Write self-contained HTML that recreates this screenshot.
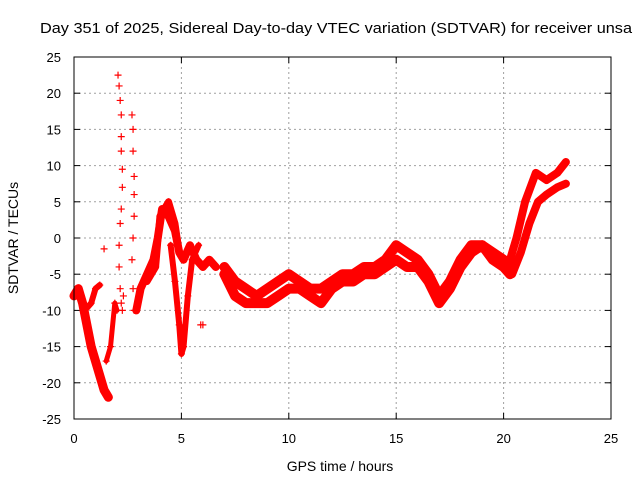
<!DOCTYPE html>
<html><head><meta charset="utf-8"><style>
body{margin:0;background:#fff;}
svg{display:block;font-family:"Liberation Sans",sans-serif;}
</style></head><body>
<svg id="c" width="640" height="480">
<text x="40" y="33" font-size="15" textLength="592" lengthAdjust="spacingAndGlyphs">Day 351 of 2025, Sidereal Day-to-day VTEC variation (SDTVAR) for receiver unsa</text>
<text x="340" y="471" font-size="14" text-anchor="middle">GPS time / hours</text>
<text transform="translate(18,238) rotate(-90)" font-size="14" text-anchor="middle">SDTVAR / TECUs</text>
<g id="grid"></g><g id="data"></g>
<rect x="74" y="57" width="537" height="362" fill="none" stroke="#000" stroke-width="1"/>
</svg>
<script>
const xTicks=[0,5,10,15,20,25];
const yTicks=[25,20,15,10,5,0,-5,-10,-15,-20,-25];
const tA=[0,0.2,0.4,0.6,0.8,1.0,1.2,1.4,1.6];
const vA=[-8,-7,-9,-12,-15,-17,-19,-21,-22];
const tA2=[0.5,0.8,1.0,1.2];
const vA2=[-10,-9,-7,-6.5];
const tS1=[2.05,2.1,2.15,2.2,2.2,2.2,2.25,2.25,2.2,2.15,2.1,2.1,2.15,2.2,2.25,2.3];
const vS1=[22.5,21,19,17,14,12,9.5,7,4,2,-1,-4,-7,-9,-10,-8];
const tS2=[2.7,2.75,2.75,2.8,2.8,2.8,2.75,2.7,2.75,2.8];
const vS2=[17,15,12,8.5,6,3,0,-3,-7,-10];
const tB=[2.9,3.1,3.4,3.7,3.9,4.1,4.4,4.7,4.9,5.1,5.4,5.7,6.0,6.3,6.6];
const vB=[-10,-7,-5,-3,0,4,3,1,-2,-3,-1,-3,-4,-3,-4];
const tB2=[3.4,3.8,4.0,4.4,4.7,4.9];
const vB2=[-6,-4,3,5,2,-2];
const tD=[4.5,4.7,4.9,5.0,5.1,5.3,5.5,5.8];
const vD=[-1,-6,-12,-16,-15,-8,-3,-1];
const tE=[1.5,1.7,1.9,2.0];
const vE=[-17,-15,-9,-10];
const tC1=[7,7.5,8,8.5,9,9.5,10,10.5,11,11.5,12,12.5,13,13.5,14,14.5,15,15.5,16,16.5,17,17.5,18,18.5,19,19.5,20,20.3];
const vC1=[-4,-6,-7,-8,-7,-6,-5,-6,-7,-7,-6,-5,-5,-4,-4,-3,-1,-2,-3,-5,-8,-6,-3,-1,-1,-2,-3,-4];
const tC2=[7,7.5,8,8.5,9,9.5,10,10.5,11,11.5,12,12.5,13,13.5,14,14.5,15,15.5,16,16.5,17,17.5,18,18.5,19,19.5,20,20.3];
const vC2=[-5,-8,-9,-9,-9,-8,-7,-7,-8,-9,-7,-6,-6,-5,-5,-4,-3,-4,-4,-6,-9,-7,-4,-2,-1,-3,-4,-5];
const tR1=[20.3,20.6,21,21.5,22,22.5,22.9];
const vR1=[-3,0,5,9,8,9,10.5];
const tR2=[20.4,20.8,21.2,21.6,22,22.5,22.9];
const vR2=[-5,-2,2,5,6,7,7.5];
const tracks=[[tA,vA,9],[tA2,vA2,6],[tB,vB,8],[tB2,vB2,7],[tD,vD,6],[tE,vE,5],[tC1,vC1,10],[tC2,vC2,10],[tR1,vR1,8],[tR2,vR2,8]];
const sparse=[[tS1,vS1],[tS2,vS2]];
const X=t=>74+t*(537/25), Y=v=>238-v*(362/50);
const NS="http://www.w3.org/2000/svg";
const grid=document.getElementById('grid'), data=document.getElementById('data');
function mk(tag,attrs,parent){const e=document.createElementNS(NS,tag);for(const k in attrs)e.setAttribute(k,attrs[k]);parent.appendChild(e);return e;}
xTicks.forEach(t=>{
 if(t>0&&t<25){const g=mk('line',{x1:X(t),x2:X(t),y1:57,y2:419,stroke:'#a0a0a0','stroke-dasharray':'2,3'},grid);
 
 }
 mk('line',{x1:X(t),x2:X(t),y1:419,y2:413,stroke:'#000'},grid);
 mk('line',{x1:X(t),x2:X(t),y1:57,y2:63,stroke:'#000'},grid);
 const l=mk('text',{x:X(t),y:443,'font-size':13,'text-anchor':'middle'},grid);l.textContent=t;
 
 
});
yTicks.forEach(v=>{
 if(v>-25&&v<25){const g=mk('line',{x1:74,x2:611,y1:Y(v),y2:Y(v),stroke:'#a0a0a0','stroke-dasharray':'2,3'},grid);
 
 }
 mk('line',{x1:74,x2:80,y1:Y(v),y2:Y(v),stroke:'#000'},grid);
 mk('line',{x1:611,x2:605,y1:Y(v),y2:Y(v),stroke:'#000'},grid);
 const l=mk('text',{x:61,y:Y(v)+5,'font-size':13,'text-anchor':'end'},grid);l.textContent=v;
 
 
});
function plus(t,v){const p=mk('path',{d:`M${X(t)-3.5},${Y(v)}h7M${X(t)},${Y(v)-3.5}v7`,stroke:'#f00','stroke-width':1.2},data);
 
 }
tracks.forEach(([ts,vs,w])=>{
 const pl=mk('polyline',{points:ts.map((t,i)=>X(t)+','+Y(vs[i])).join(' '),fill:'none',stroke:'#f00','stroke-width':w,'stroke-linejoin':'round','stroke-linecap':'round'},data);
 
 
 ts.forEach((t,i)=>plus(t,vs[i]));
});
sparse.forEach(([ts,vs])=>ts.forEach((t,i)=>plus(t,vs[i])));
plus(1.4,-1.5);plus(5.9,-12);plus(6.0,-12);
</script>
</body></html>
